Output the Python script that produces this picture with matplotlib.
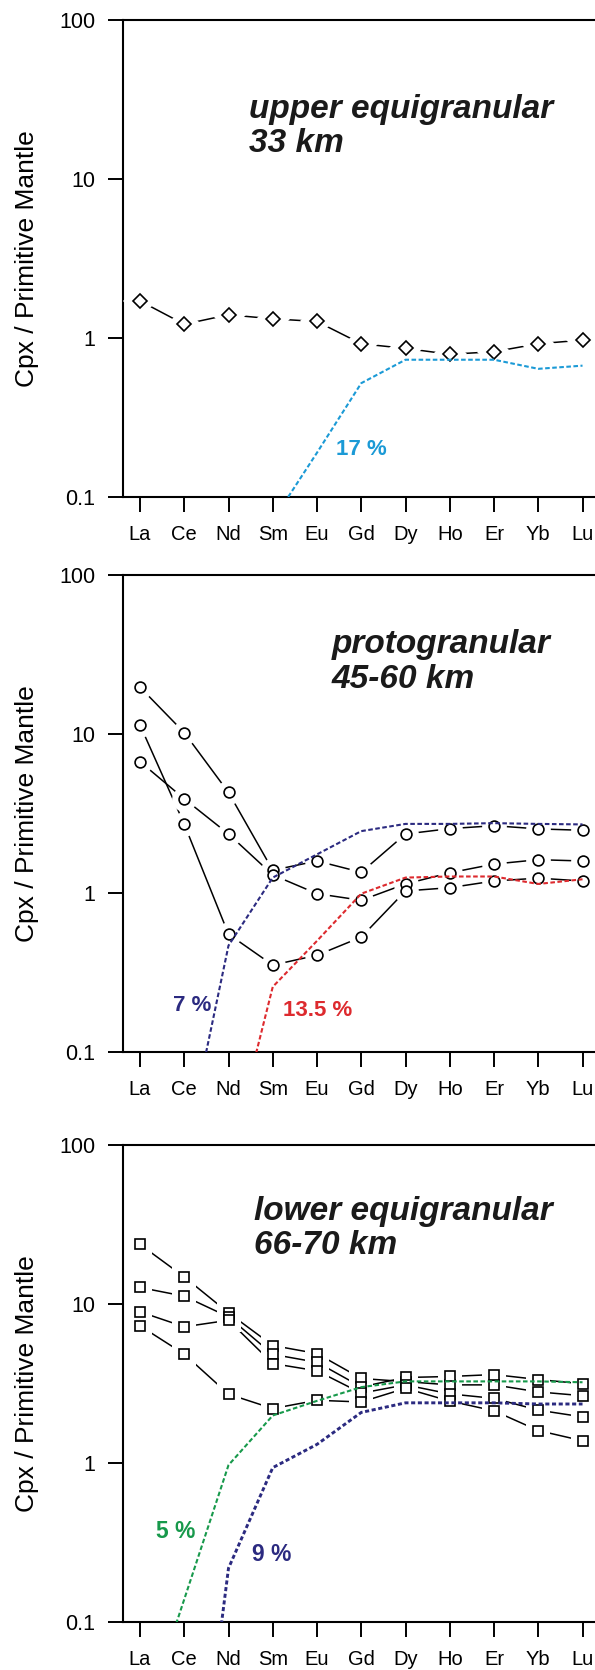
import numpy as np
import matplotlib
matplotlib.use("Agg")
import matplotlib.pyplot as plt
from matplotlib.ticker import FixedLocator, NullLocator

plt.rcParams['font.family'] = ['Liberation Sans', 'DejaVu Sans']

# REE order on the x axis
elements = ['La', 'Ce', 'Nd', 'Sm', 'Eu', 'Gd', 'Dy', 'Ho', 'Er', 'Yb', 'Lu']
nan = np.nan

# upper equigranular, 33 km (diamonds)
upper_cpx = [1.71, 1.22, 1.40, 1.32, 1.27, 0.92, 0.86, 0.79, 0.82, 0.92, 0.97]
upper_melt17 = [nan, nan, nan, 0.071, 0.19, 0.52, 0.73, 0.73, 0.73, 0.64, 0.67]

# protogranular, 45-60 km (circles)
proto_a = [19.7, 10.2, 4.29, 1.39, 1.59, 1.35, 2.35, 2.54, 2.65, 2.53, 2.48]
proto_b = [6.7, 3.91, 2.35, 1.30, 0.99, 0.90, 1.14, 1.34, 1.52, 1.62, 1.59]
proto_c = [11.4, 2.71, 0.551, 0.352, 0.406, 0.528, 1.03, 1.08, 1.19, 1.24, 1.19]
proto_melt7 = [nan, 0.022, 0.467, 1.25, 1.75, 2.45, 2.72, 2.72, 2.75, 2.72, 2.70]
proto_melt135 = [nan, nan, 0.02, 0.257, 0.50, 0.99, 1.25, 1.27, 1.27, 1.14, 1.22]

# lower equigranular, 66-70 km (squares)
lower_a = [23.7, 14.8, 8.8, 5.48, 4.88, 3.40, 3.25, 3.10, 3.10, 2.80, 2.65]
lower_b = [12.7, 11.2, 8.3, 4.82, 4.30, 3.01, 3.45, 3.50, 3.60, 3.35, 3.15]
lower_c = [8.93, 7.19, 7.9, 4.22, 3.80, 2.75, 3.10, 2.72, 2.55, 2.15, 1.95]
lower_d = [7.29, 4.84, 2.71, 2.20, 2.48, 2.42, 2.95, 2.45, 2.13, 1.60, 1.38]
lower_melt5 = [0.02, 0.139, 0.97, 1.99, 2.46, 3.00, 3.26, 3.26, 3.26, 3.26, 3.22]
lower_melt9 = [nan, 0.0014, 0.218, 0.935, 1.31, 2.08, 2.39, 2.39, 2.39, 2.35, 2.35]

x = np.arange(len(elements))

light_blue = '#1b9ad6'
navy = '#2b2a80'
red = '#dd2a2e'
green = '#17994b'

W, H = 595, 1670
fig = plt.figure(figsize=(W / 100, H / 100), dpi=100)

ax_left, ax_w = 122.7, 472.3
panel_tops = [20, 575, 1145]
panel_h = 477


def make_axes(top):
    ax = fig.add_axes([ax_left / W, 1 - (top + panel_h) / H, ax_w / W, panel_h / H])
    ax.set_yscale('log')
    ax.set_ylim(0.1, 100)
    ax.set_xlim(-0.391, 10.282)
    ax.yaxis.set_major_locator(FixedLocator([0.1, 1, 10, 100]))
    ax.yaxis.set_minor_locator(NullLocator())
    ax.set_yticklabels(['0.1', '1', '10', '100'])
    ax.set_xticks(x)
    ax.set_xticklabels(elements)
    ax.spines['right'].set_visible(False)
    for s in ['left', 'top', 'bottom']:
        ax.spines[s].set_linewidth(1.5)
    ax.tick_params(axis='y', direction='out', length=10.5, width=1.4,
                   labelsize=15.5, pad=9)
    ax.tick_params(axis='x', direction='out', length=11, width=1.4,
                   labelsize=14.5, pad=9)
    ax.text(-0.2035, 0.5, 'Cpx / Primitive Mantle', transform=ax.transAxes,
            rotation=90, ha='center', va='center', fontsize=19)
    return ax


def draw_samples(ax, series, marker, ms):
    for s in series:
        ax.plot(x, s, color='black', lw=1.1, zorder=2)
    for s in series:
        ax.plot(x, s, ls='none', marker=marker, ms=ms + 10, mfc='white',
                mec='white', mew=0, zorder=3)
    for s in series:
        ax.plot(x, s, ls='none', marker=marker, ms=ms, mfc='white',
                mec='black', mew=1.2, zorder=4)


def draw_model(ax, vals, color, lw=1.5, dash=(2.2, 1.2)):
    ax.plot(x, vals, color=color, lw=lw, ls=(0, dash), zorder=5,
            solid_capstyle='butt', dash_capstyle='butt')


def panel_title(ax, txt, xa, ya):
    ax.text(xa, ya, txt, transform=ax.transAxes, fontsize=24,
            fontweight='bold', fontstyle='italic', ha='left', va='center',
            linespacing=1.15, color='#1a1a1a')


# top panel
ax1 = make_axes(panel_tops[0])
draw_samples(ax1, [upper_cpx], 'D', 7.0)
draw_model(ax1, upper_melt17, light_blue)
panel_title(ax1, 'upper equigranular\n33 km', 0.2666, 0.777)
ax1.text(0.5046, 0.0987, '17 %', transform=ax1.transAxes, color=light_blue,
         fontsize=16, fontweight='bold', ha='center', va='center')

# middle panel
ax2 = make_axes(panel_tops[1])
draw_samples(ax2, [proto_a, proto_b, proto_c], 'o', 7.8)
draw_model(ax2, proto_melt7, navy)
draw_model(ax2, proto_melt135, red)
panel_title(ax2, 'protogranular\n45-60 km', 0.443, 0.8176)
ax2.text(0.148, 0.097, '7 %', transform=ax2.transAxes, color=navy,
         fontsize=16, fontweight='bold', ha='center', va='center')
ax2.text(0.4135, 0.088, '13.5 %', transform=ax2.transAxes, color=red,
         fontsize=16, fontweight='bold', ha='center', va='center')

# bottom panel
ax3 = make_axes(panel_tops[2])
draw_samples(ax3, [lower_a, lower_b, lower_c, lower_d], 's', 7.2)
draw_model(ax3, lower_melt5, green)
draw_model(ax3, lower_melt9, navy, lw=2.1, dash=(1.4, 0.9))
panel_title(ax3, 'lower equigranular\n66-70 km', 0.277, 0.825)
ax3.text(0.1118, 0.1893, '5 %', transform=ax3.transAxes, color=green,
         fontsize=16.5, fontweight='bold', ha='center', va='center')
ax3.text(0.315, 0.1405, '9 %', transform=ax3.transAxes, color=navy,
         fontsize=16.5, fontweight='bold', ha='center', va='center')

fig.savefig('out.png', dpi=100)
